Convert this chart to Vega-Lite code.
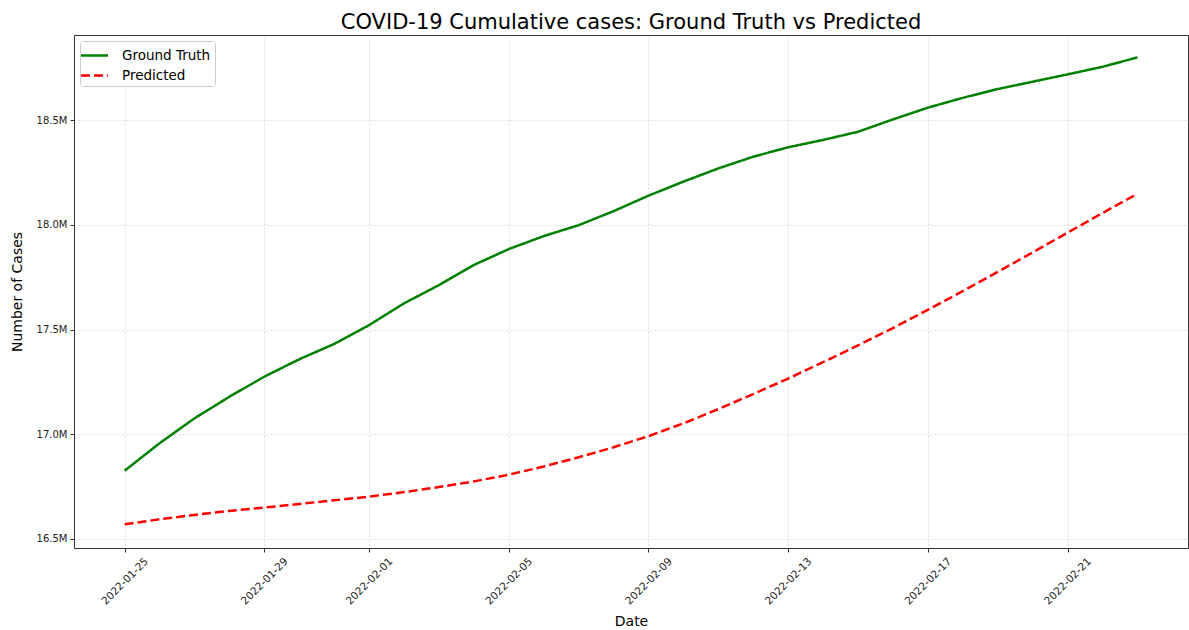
{
  "$schema": "https://vega.github.io/schema/vega-lite/v6.json",
  "width": 1114,
  "height": 513,
  "autosize": "none",
  "padding": {"left": 74, "top": 35, "right": 1, "bottom": 82},
  "background": "white",
  "title": {"text": "COVID-19 Cumulative cases: Ground Truth vs Predicted", "fontSize": 21, "font": "DejaVu Sans", "fontWeight": "normal", "color": "#000", "anchor": "middle", "offset": 2},
  "config": {
    "font": "DejaVu Sans",
    "view": {"stroke": "#333", "strokeWidth": 1},
    "axis": {"domain": false, "grid": true, "gridColor": "#b0b0b0", "gridOpacity": 0.6, "gridDash": [2, 2], "gridWidth": 0.8, "tickColor": "#333", "tickSize": 4, "labelColor": "#222", "labelFont": "DejaVu Sans", "labelFontSize": 10, "titleFont": "DejaVu Sans", "titleFontSize": 14, "titleFontWeight": "normal", "titleColor": "#000"}
  },
  "datasets": {
    "cases": [
      {"date": "2022-01-25", "series": "Ground Truth", "value": 16826000},
      {"date": "2022-01-26", "series": "Ground Truth", "value": 16957000},
      {"date": "2022-01-27", "series": "Ground Truth", "value": 17076000},
      {"date": "2022-01-28", "series": "Ground Truth", "value": 17179000},
      {"date": "2022-01-29", "series": "Ground Truth", "value": 17275000},
      {"date": "2022-01-30", "series": "Ground Truth", "value": 17358000},
      {"date": "2022-01-31", "series": "Ground Truth", "value": 17431000},
      {"date": "2022-02-01", "series": "Ground Truth", "value": 17521000},
      {"date": "2022-02-02", "series": "Ground Truth", "value": 17625000},
      {"date": "2022-02-03", "series": "Ground Truth", "value": 17712000},
      {"date": "2022-02-04", "series": "Ground Truth", "value": 17808000},
      {"date": "2022-02-05", "series": "Ground Truth", "value": 17884000},
      {"date": "2022-02-06", "series": "Ground Truth", "value": 17946000},
      {"date": "2022-02-07", "series": "Ground Truth", "value": 17998000},
      {"date": "2022-02-08", "series": "Ground Truth", "value": 18065000},
      {"date": "2022-02-09", "series": "Ground Truth", "value": 18139000},
      {"date": "2022-02-10", "series": "Ground Truth", "value": 18206000},
      {"date": "2022-02-11", "series": "Ground Truth", "value": 18269000},
      {"date": "2022-02-12", "series": "Ground Truth", "value": 18325000},
      {"date": "2022-02-13", "series": "Ground Truth", "value": 18370000},
      {"date": "2022-02-14", "series": "Ground Truth", "value": 18405000},
      {"date": "2022-02-15", "series": "Ground Truth", "value": 18444000},
      {"date": "2022-02-16", "series": "Ground Truth", "value": 18503000},
      {"date": "2022-02-17", "series": "Ground Truth", "value": 18559000},
      {"date": "2022-02-18", "series": "Ground Truth", "value": 18606000},
      {"date": "2022-02-19", "series": "Ground Truth", "value": 18648000},
      {"date": "2022-02-20", "series": "Ground Truth", "value": 18683000},
      {"date": "2022-02-21", "series": "Ground Truth", "value": 18718000},
      {"date": "2022-02-22", "series": "Ground Truth", "value": 18754000},
      {"date": "2022-02-23", "series": "Ground Truth", "value": 18799000},
      {"date": "2022-01-25", "series": "Predicted", "value": 16570000},
      {"date": "2022-01-26", "series": "Predicted", "value": 16594000},
      {"date": "2022-01-27", "series": "Predicted", "value": 16615000},
      {"date": "2022-01-28", "series": "Predicted", "value": 16634000},
      {"date": "2022-01-29", "series": "Predicted", "value": 16650000},
      {"date": "2022-01-30", "series": "Predicted", "value": 16667000},
      {"date": "2022-01-31", "series": "Predicted", "value": 16685000},
      {"date": "2022-02-01", "series": "Predicted", "value": 16702000},
      {"date": "2022-02-02", "series": "Predicted", "value": 16724000},
      {"date": "2022-02-03", "series": "Predicted", "value": 16748000},
      {"date": "2022-02-04", "series": "Predicted", "value": 16775000},
      {"date": "2022-02-05", "series": "Predicted", "value": 16807000},
      {"date": "2022-02-06", "series": "Predicted", "value": 16846000},
      {"date": "2022-02-07", "series": "Predicted", "value": 16890000},
      {"date": "2022-02-08", "series": "Predicted", "value": 16938000},
      {"date": "2022-02-09", "series": "Predicted", "value": 16991000},
      {"date": "2022-02-10", "series": "Predicted", "value": 17052000},
      {"date": "2022-02-11", "series": "Predicted", "value": 17120000},
      {"date": "2022-02-12", "series": "Predicted", "value": 17192000},
      {"date": "2022-02-13", "series": "Predicted", "value": 17266000},
      {"date": "2022-02-14", "series": "Predicted", "value": 17344000},
      {"date": "2022-02-15", "series": "Predicted", "value": 17424000},
      {"date": "2022-02-16", "series": "Predicted", "value": 17507000},
      {"date": "2022-02-17", "series": "Predicted", "value": 17594000},
      {"date": "2022-02-18", "series": "Predicted", "value": 17683000},
      {"date": "2022-02-19", "series": "Predicted", "value": 17775000},
      {"date": "2022-02-20", "series": "Predicted", "value": 17868000},
      {"date": "2022-02-21", "series": "Predicted", "value": 17962000},
      {"date": "2022-02-22", "series": "Predicted", "value": 18056000},
      {"date": "2022-02-23", "series": "Predicted", "value": 18148000}
    ]
  },
  "data": {"name": "cases"},
  "mark": {"type": "line", "strokeWidth": 2.5, "clip": true},
  "encoding": {
    "x": {
      "field": "date",
      "type": "temporal",
      "scale": {"type": "utc", "domain": [{"year": 2022, "month": 1, "date": 23, "hours": 13, "minutes": 12, "utc": true}, {"year": 2022, "month": 2, "date": 24, "hours": 10, "minutes": 48, "utc": true}]},
      "axis": {
        "title": "Date",
        "values": [
          {"year": 2022, "month": 1, "date": 25, "utc": true},
          {"year": 2022, "month": 1, "date": 29, "utc": true},
          {"year": 2022, "month": 2, "date": 1, "utc": true},
          {"year": 2022, "month": 2, "date": 5, "utc": true},
          {"year": 2022, "month": 2, "date": 9, "utc": true},
          {"year": 2022, "month": 2, "date": 13, "utc": true},
          {"year": 2022, "month": 2, "date": 17, "utc": true},
          {"year": 2022, "month": 2, "date": 21, "utc": true}
        ],
        "labelExpr": "utcFormat(datum.value, '%Y-%m-%d')",
        "labelAngle": -45,
        "labelAlign": "center",
        "labelBaseline": "middle",
        "labelFontSize": 10.5,
        "labelPadding": 29,
        "titlePadding": 8
      }
    },
    "y": {
      "field": "value",
      "type": "quantitative",
      "scale": {"domain": [16457000, 18906000], "nice": false, "zero": false},
      "axis": {
        "title": "Number of Cases",
        "values": [16500000, 17000000, 17500000, 18000000, 18500000],
        "labelExpr": "format(datum.value / 1000000, '.1f') + 'M'",
        "labelPadding": 3,
        "titlePadding": 12
      }
    },
    "color": {
      "field": "series",
      "type": "nominal",
      "scale": {"domain": ["Ground Truth", "Predicted"], "range": ["#008000", "#ff0000"]},
      "legend": {
        "title": null,
        "orient": "top-left",
        "offset": 6,
        "padding": 4,
        "strokeColor": "#cccccc",
        "fillColor": "white",
        "cornerRadius": 3,
        "symbolType": "M-1.5,0H1.5",
        "symbolStrokeWidth": 2.5,
        "symbolSize": 324,
        "labelFontSize": 13.5,
        "labelColor": "#000",
        "labelOffset": 17,
        "rowPadding": 3
      }
    },
    "strokeDash": {
      "field": "series",
      "type": "nominal",
      "scale": {"domain": ["Ground Truth", "Predicted"], "range": [[1, 0], [9, 4]]},
      "legend": {
        "title": null,
        "orient": "top-left",
        "offset": 6,
        "padding": 4,
        "strokeColor": "#cccccc",
        "fillColor": "white",
        "cornerRadius": 3,
        "symbolType": "M-1.5,0H1.5",
        "symbolStrokeWidth": 2.5,
        "symbolSize": 324,
        "labelFontSize": 13.5,
        "labelColor": "#000",
        "labelOffset": 17,
        "rowPadding": 3
      }
    }
  }
}
